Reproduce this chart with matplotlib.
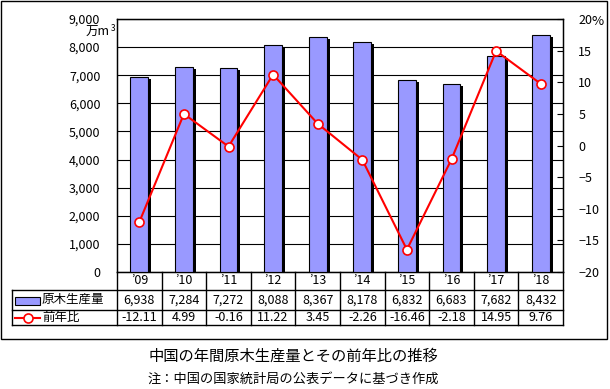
import matplotlib
matplotlib.use('Agg')
import matplotlib.pyplot as plt
from matplotlib.transforms import blended_transform_factory
from matplotlib.patches import Rectangle
from matplotlib.lines import Line2D

plt.rcParams['font.family'] = ['Noto Sans CJK JP', 'DejaVu Sans']

years = ['’09', '’10', '’11', '’12', '’13', '’14', '’15', '’16', '’17', '’18']
production = [6938, 7284, 7272, 8088, 8367, 8178, 6832, 6683, 7682, 8432]
yoy = [-12.11, 4.99, -0.16, 11.22, 3.45, -2.26, -16.46, -2.18, 14.95, 9.76]
prod_labels = ['6,938', '7,284', '7,272', '8,088', '8,367', '8,178', '6,832', '6,683', '7,682', '8,432']
yoy_labels = ['-12.11', '4.99', '-0.16', '11.22', '3.45', '-2.26', '-16.46', '-2.18', '14.95', '9.76']
left_ticks = list(range(0, 9001, 1000))
right_ticks = list(range(-20, 21, 5))
series_names = ['原木生産量', '前年比']
title = '中国の年間原木生産量とその前年比の推移'
note = '注：中国の国家統計局の公表データに基づき作成'

W, H = 610, 389
fig = plt.figure(figsize=(W / 100, H / 100), dpi=100)

# overlay axes in pixel coordinates for frame/table
tax = fig.add_axes([0, 0, 1, 1], zorder=10)
tax.set_xlim(0, W)
tax.set_ylim(H, 0)
tax.axis('off')
tax.patch.set_alpha(0)

tax.add_patch(Rectangle((1, 1), 606, 338, fill=False, ec='black', lw=1))

ax = fig.add_axes([117 / W, 1 - 272 / H, 446 / W, 253 / H])
xs = list(range(len(years)))
ax.bar([x + 0.067 for x in xs], [v - 70 for v in production], width=0.4,
       color='black', zorder=2)
ax.bar(xs, production, width=0.4, color='#9999ff', edgecolor='black',
       lw=0.8, zorder=3)
ax.set_xlim(-0.5, len(years) - 0.5)
ax.set_ylim(0, 9000)
ax.set_yticks(left_ticks)
ax.set_yticklabels(['{:,}'.format(v) for v in left_ticks])
ax.set_xticks([])
ax.yaxis.grid(True, color='black', lw=0.8)
ax.set_axisbelow(True)
ax.tick_params(axis='y', length=0, pad=12, labelsize=9)
for s in ax.spines.values():
    s.set_color('black')
    s.set_linewidth(1)

ax2 = ax.twinx()
ax2.plot(xs, yoy, color='red', lw=1.5, marker='o', mfc='white', mec='red',
         ms=6.5, mew=1.2, zorder=5)
ax2.set_ylim(-20, 20)
ax2.set_yticks(right_ticks)
ax2.tick_params(axis='y', direction='in', length=4, pad=11, labelsize=9)
ax2.set_xlim(-0.5, len(years) - 0.5)

# unit labels
tax.text(110, 32, '万m', ha='right', va='center', fontsize=9)
tax.text(110.5, 28, '3', ha='left', va='center', fontsize=6)
tax.text(592, 21, '%', ha='left', va='center', fontsize=9.5)

# data table
tr = blended_transform_factory(ax.transData, tax.transData)
y_top, y1, y2, y3 = 272, 290, 309.5, 325
for yy in (y1, y2, y3):
    tax.plot([12, 563], [yy, yy], color='black', lw=1)
tax.plot([12, 12], [y1, y3], color='black', lw=1)
for i in range(len(years) + 1):
    tax.plot([i - 0.5, i - 0.5], [y_top, y3], color='black', lw=1, transform=tr)
for i, x in enumerate(xs):
    tax.text(x, (y_top + y1) / 2, years[i], ha='center', va='center', fontsize=9, transform=tr)
    tax.text(x, (y1 + y2) / 2, prod_labels[i], ha='center', va='center', fontsize=9, transform=tr)
    tax.text(x, (y2 + y3) / 2, yoy_labels[i], ha='center', va='center', fontsize=9, transform=tr)

# row headers with legend keys
tax.add_patch(Rectangle((15, 297), 25, 8, fc='#9999ff', ec='black', lw=0.8))
tax.text(42, (y1 + y2) / 2, series_names[0], ha='left', va='center', fontsize=9)
tax.add_line(Line2D([15, 40], [317.5, 317.5], color='red', lw=1.5))
tax.add_line(Line2D([27.5], [317.5], marker='o', mfc='white', mec='red', ms=6.5, mew=1.2))
tax.text(42, (y2 + y3) / 2, series_names[1], ha='left', va='center', fontsize=9)

# titles
tax.text(293, 356, title, ha='center', va='center', fontsize=11)
tax.text(293, 379, note, ha='center', va='center', fontsize=9.5)

fig.savefig('out.png', dpi=100)
